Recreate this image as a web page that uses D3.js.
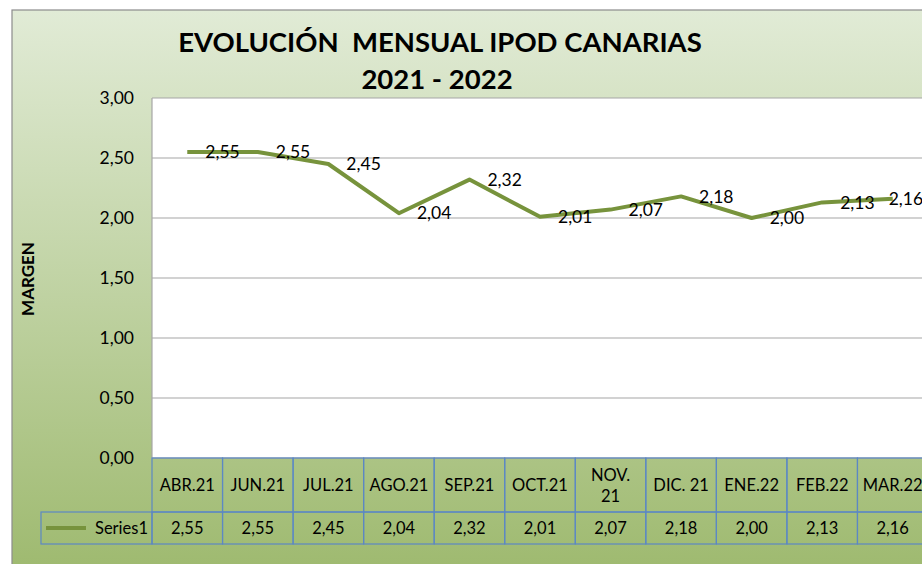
<!DOCTYPE html>
<html>
<head>
<meta charset="utf-8">
<script src="https://cdn.jsdelivr.net/npm/d3@7"></script>
<style>
  body { margin: 0; background: #fff; }
  svg { display: block; font-family: Lato, "Open Sans", sans-serif; }
</style>
</head>
<body>
<svg id="chart" width="922" height="564"></svg>
<script>
const months = ["ABR.21", "JUN.21", "JUL.21", "AGO.21", "SEP.21", "OCT.21", "NOV. 21", "DIC. 21", "ENE.22", "FEB.22", "MAR.22"];
const margen = [2.55, 2.55, 2.45, 2.04, 2.32, 2.01, 2.07, 2.18, 2.00, 2.13, 2.16];
const yTicks = [0, 0.5, 1, 1.5, 2, 2.5, 3];
const seriesName = "Series1";

const fmt = d => d3.format(".2f")(d).replace(".", ",");

const plot = { left: 152, right: 928, top: 98, bottom: 458 };
const svg = d3.select("#chart");

// background gradient
const defs = svg.append("defs");
const grad = defs.append("linearGradient")
  .attr("id", "bg").attr("x1", 0).attr("y1", 0).attr("x2", 0).attr("y2", 1);
grad.append("stop").attr("offset", "0%").attr("stop-color", "#e1ebd6");
grad.append("stop").attr("offset", "100%").attr("stop-color", "#9cb86c");

svg.append("rect")
  .attr("x", 12).attr("y", 10).attr("width", 940).attr("height", 580)
  .attr("fill", "url(#bg)").attr("stroke", "#8c8c8c").attr("stroke-width", 1.2);

const x = d3.scaleBand().domain(months).range([plot.left, plot.right]);
const y = d3.scaleLinear().domain([0, 3]).range([plot.bottom, plot.top]);

// plot area
svg.append("rect")
  .attr("x", plot.left).attr("y", plot.top)
  .attr("width", plot.right - plot.left).attr("height", plot.bottom - plot.top)
  .attr("fill", "#fff");

// gridlines
svg.append("g").selectAll("line").data(yTicks).join("line")
  .attr("x1", plot.left).attr("x2", plot.right)
  .attr("y1", d => y(d)).attr("y2", d => y(d))
  .attr("stroke", "#a6a6a6").attr("stroke-width", 1.2);

svg.append("line")
  .attr("x1", plot.left).attr("x2", plot.left)
  .attr("y1", plot.top).attr("y2", plot.bottom)
  .attr("stroke", "#a6a6a6").attr("stroke-width", 1.2);

// y axis labels
const yAxis = svg.append("g")
  .attr("transform", `translate(${plot.left},0)`)
  .call(d3.axisLeft(y).tickValues(yTicks).tickFormat(fmt).tickSize(0).tickPadding(18));
yAxis.select(".domain").remove();
yAxis.selectAll("text").attr("font-size", 17.5).attr("fill", "#000")
  .attr("font-family", "Lato, sans-serif");

svg.append("text")
  .attr("transform", "translate(34,279) rotate(-90)")
  .attr("text-anchor", "middle")
  .attr("font-size", 17).attr("font-weight", "bold")
  .text("MARGEN");

// title
const title = svg.append("text")
  .attr("text-anchor", "middle").attr("font-weight", "bold").attr("font-size", 27.5);
title.append("tspan").attr("x", 440).attr("y", 52).text("EVOLUCIÓN\u00a0\u00a0MENSUAL IPOD CANARIAS");
title.append("tspan").attr("x", 437).attr("y", 89).text("2021 - 2022");

// line
const cx = i => x(months[i]) + x.bandwidth() / 2;
const line = d3.line()
  .x((d, i) => cx(i))
  .y(d => y(d));

svg.append("path")
  .datum(margen)
  .attr("d", line)
  .attr("fill", "none")
  .attr("stroke", "#77933c")
  .attr("stroke-width", 4)
  .attr("stroke-linejoin", "round");

// labels sit right of the point; the last one is pulled back to stay in view
svg.append("g").selectAll("text").data(margen).join("text")
  .attr("x", (d, i) => i === margen.length - 1 ? cx(i) - 4 : cx(i) + 18)
  .attr("y", d => y(d))
  .attr("dy", "0.35em")
  .attr("font-size", 17.5)
  .text(fmt);

// data table
const rowH = [plot.bottom, 512, 544];
const tableColor = "#5c88c4";
const table = svg.append("g");

table.selectAll("rect.head").data(months).join("rect")
  .attr("class", "head")
  .attr("x", d => x(d)).attr("y", rowH[0])
  .attr("width", x.bandwidth()).attr("height", rowH[1] - rowH[0])
  .attr("fill", "none").attr("stroke", tableColor).attr("stroke-width", 1.2);

table.selectAll("rect.val").data(months).join("rect")
  .attr("class", "val")
  .attr("x", d => x(d)).attr("y", rowH[1])
  .attr("width", x.bandwidth()).attr("height", rowH[2] - rowH[1])
  .attr("fill", "none").attr("stroke", tableColor).attr("stroke-width", 1.2);

table.append("rect")
  .attr("x", 41).attr("y", rowH[1])
  .attr("width", plot.left - 41).attr("height", rowH[2] - rowH[1])
  .attr("fill", "none").attr("stroke", tableColor).attr("stroke-width", 1.2);

table.selectAll("text.head").data(months).join("text")
  .attr("class", "head")
  .attr("text-anchor", "middle")
  .attr("font-size", 16.5)
  .each(function(d, i) {
    const parts = d === "NOV. 21" ? ["NOV.", "21"] : [d];
    const t = d3.select(this);
    const mid = (rowH[0] + rowH[1]) / 2;
    parts.forEach((p, k) => {
      t.append("tspan")
        .attr("x", cx(i))
        .attr("y", mid + 6 + (k - (parts.length - 1) / 2) * 21)
        .text(p);
    });
  });

table.selectAll("text.val").data(margen).join("text")
  .attr("class", "val")
  .attr("text-anchor", "middle")
  .attr("font-size", 16.5)
  .attr("x", (d, i) => cx(i))
  .attr("y", (rowH[1] + rowH[2]) / 2 + 6)
  .text(fmt);

table.append("line")
  .attr("x1", 46).attr("x2", 86)
  .attr("y1", 528).attr("y2", 528)
  .attr("stroke", "#77933c").attr("stroke-width", 4);
table.append("text")
  .attr("x", 148).attr("y", 534)
  .attr("text-anchor", "end").attr("font-size", 16.5)
  .text(seriesName);
</script>
</body>
</html>
